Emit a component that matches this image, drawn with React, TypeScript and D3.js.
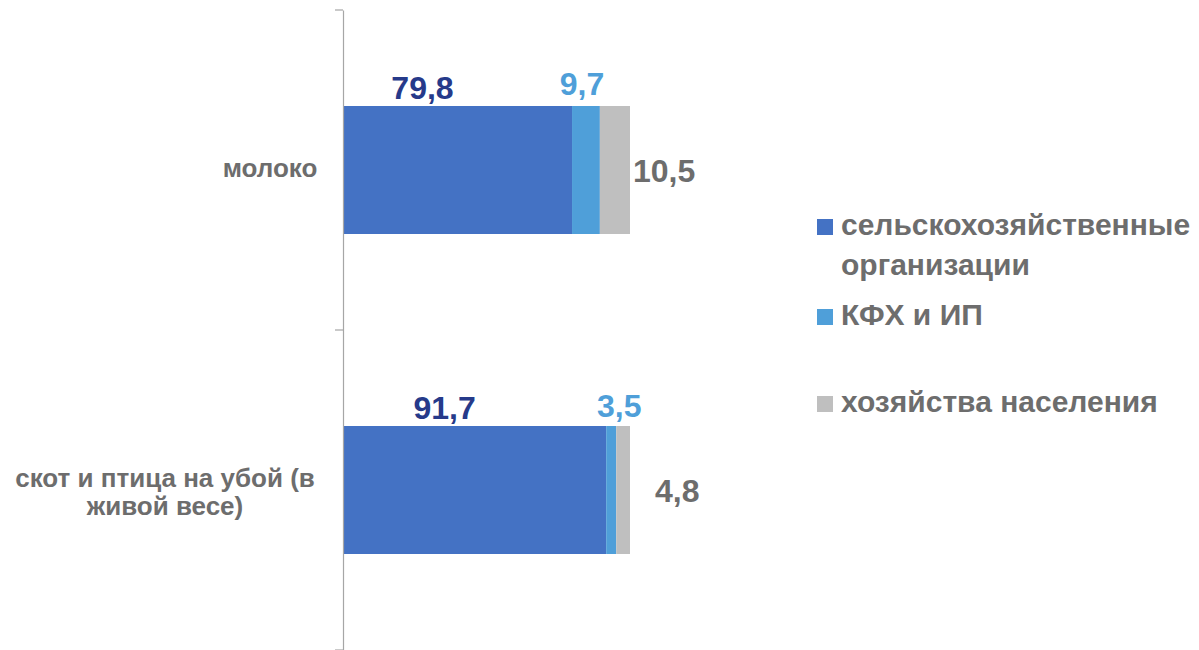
import React, { useEffect, useRef } from "react";
import * as d3 from "d3";

// categories (top to bottom)
const categories = ["молоко", "скот и птица на убой (в живой весе)"];
const categoryLines = [["молоко"], ["скот и птица на убой (в", "живой весе)"]];

// series, % share
const seriesNames = ["сельскохозяйственные организации", "КФХ и ИП", "хозяйства населения"];
const legendLines = [["сельскохозяйственные", "организации"], ["КФХ и ИП"], ["хозяйства населения"]];
const agriOrgs = [79.8, 91.7];
const farms = [9.7, 3.5];
const households = [10.5, 4.8];
const valueLabels = [
  ["79,8", "91,7"],
  ["9,7", "3,5"],
  ["10,5", "4,8"],
];

const colors = ["#4472c4", "#4f9fd9", "#bfbfbf"];
const labelColors = ["#263a8a", "#4f9fd9", "#6d6d6d"];
const textGrey = "#6d6d6d";
const font = "Liberation Sans, Arial, sans-serif";

const W = 1199;
const H = 650;
const margin = { top: 10, left: 343, right: 569, bottom: 0 };

const App = () => {
  const canvas = useRef<SVGSVGElement | null>(null);

  useEffect(() => {
    const svg = d3.select(canvas.current);
    svg.selectAll("*").remove();

    const rows = categories.map((c, i) => ({
      cat: c,
      s0: agriOrgs[i],
      s1: farms[i],
      s2: households[i],
    }));
    const stack = d3.stack<any>().keys(["s0", "s1", "s2"]);
    const series = stack(rows);

    const x = d3
      .scaleLinear()
      .domain([0, 100])
      .range([margin.left, W - margin.right]);
    const y = d3
      .scaleBand()
      .domain(categories)
      .range([margin.top, H - margin.bottom])
      .padding(0);
    const barH = y.bandwidth() * 0.4;
    const barY = (c: string) => (y(c) as number) + y.bandwidth() / 2 - barH / 2;

    // bars
    series.forEach((s, si) => {
      svg
        .append("g")
        .selectAll("rect")
        .data(s)
        .enter()
        .append("rect")
        .attr("x", (d) => x(d[0]))
        .attr("y", (d) => barY(d.data.cat))
        .attr("width", (d) => x(d[1]) - x(d[0]))
        .attr("height", barH)
        .attr("fill", colors[si]);
    });

    // axis (category axis on the left)
    const yAxis = d3.axisLeft(y).tickValues([]).tickSizeOuter(0);
    const ax = svg
      .append("g")
      .attr("transform", `translate(${margin.left},0)`)
      .call(yAxis);
    ax.select(".domain").attr("stroke", "#a6a6a6").attr("stroke-width", 1.2);
    const edges = [margin.top, ...categories.map((c) => (y(c) as number) + y.bandwidth())];
    ax.selectAll("line.edge")
      .data(edges)
      .enter()
      .append("line")
      .attr("x1", -8)
      .attr("x2", 0)
      .attr("y1", (d) => d)
      .attr("y2", (d) => d)
      .attr("stroke", "#a6a6a6")
      .attr("stroke-width", 1.2);

    // category labels
    categories.forEach((c, i) => {
      const lines = categoryLines[i];
      const cy = (y(c) as number) + y.bandwidth() / 2;
      const t = svg
        .append("text")
        .attr("text-anchor", "middle")
        .attr("font-family", font)
        .attr("font-weight", "bold")
        .attr("font-size", 26)
        .attr("fill", textGrey);
      lines.forEach((ln, li) => {
        t.append("tspan")
          .attr("x", lines.length === 1 ? 270 : 165)
          .attr("y", lines.length === 1 ? cy + 7 : cy - 3 + li * 28)
          .text(ln);
      });
    });

    // value labels
    const shift0 = [-35, -30];
    const shift1 = [-4, 8];
    const shift2 = [3, 25];
    const lift1 = [11, 9];
    series.forEach((s, si) => {
      s.forEach((d, i) => {
        const top = barY(d.data.cat);
        let tx: number;
        let ty: number;
        let anchor = "middle";
        if (si === 2) {
          tx = x(d[1]) + shift2[i];
          ty = top + barH / 2 + 12;
          anchor = "start";
        } else {
          const mid = (x(d[0]) + x(d[1])) / 2;
          tx = mid + (si === 0 ? shift0[i] : shift1[i]);
          ty = top - (si === 0 ? 7 : lift1[i]);
        }
        svg
          .append("text")
          .attr("x", tx)
          .attr("y", ty)
          .attr("text-anchor", anchor)
          .attr("font-family", font)
          .attr("font-weight", "bold")
          .attr("font-size", 32)
          .attr("fill", labelColors[si])
          .text(valueLabels[si][i]);
      });
    });

    // legend
    const legendY = [235, 325, 412];
    seriesNames.forEach((n, i) => {
      const g = svg.append("g");
      g.append("rect")
        .attr("x", 817)
        .attr("y", legendY[i] - 16)
        .attr("width", 16)
        .attr("height", 16)
        .attr("fill", colors[i]);
      legendLines[i].forEach((ln, li) => {
        g.append("text")
          .attr("x", 841)
          .attr("y", legendY[i] + li * 40)
          .attr("font-family", font)
          .attr("font-weight", "bold")
          .attr("font-size", 30)
          .attr("fill", textGrey)
          .text(ln);
      });
    });
  }, []);

  return (
    <svg
      ref={canvas}
      width={W}
      height={H}
      viewBox={`0 0 ${W} ${H}`}
      style={{ position: "absolute", left: 0, top: 0, background: "white" }}
    />
  );
};

export default App;
